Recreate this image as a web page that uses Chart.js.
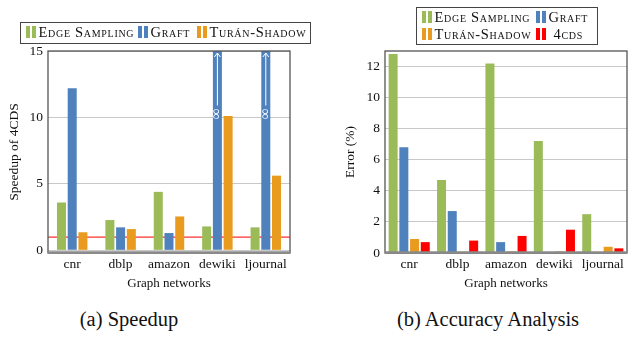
<!DOCTYPE html>
<html>
<head>
<meta charset="utf-8">
<script src="https://cdn.jsdelivr.net/npm/chart.js@4/dist/chart.umd.min.js"></script>
<style>
  body { margin: 0; background: #fff; font-family: 'Liberation Serif', serif; }
  #wrap { position: relative; width: 628px; height: 339px; overflow: hidden; }
  canvas { position: absolute; }
  .legend { position: absolute; border: 1.3px solid #444; box-sizing: border-box; font-size: 14.5px; font-variant: small-caps; letter-spacing: 0.7px; color: #111; }
  .legend span.item { position: absolute; white-space: nowrap; line-height: 15px; }
  .sw { display: inline-block; width: 4px; height: 12px; margin-right: 1.5px; vertical-align: -1px; }
  .sw.last { margin-right: 3px; }
  .cap { position: absolute; font-size: 20.5px; color: #111; white-space: nowrap; transform: translateX(-50%); }
</style>
</head>
<body>
<div id="wrap">
  <canvas id="speedup" width="314" height="300" style="left:0;top:0"></canvas>
  <canvas id="accuracy" width="298" height="300" style="left:330px;top:0"></canvas>
  <div class="legend" id="legA" style="left:20px;top:22px;width:291px;height:22px"></div>
  <div class="legend" id="legB" style="left:416px;top:7px;width:182px;height:38px"></div>
  <div class="cap" style="left:129px;top:308px">(a) Speedup</div>
  <div class="cap" style="left:488px;top:308px">(b) Accuracy Analysis</div>
</div>
<script>
"use strict";
// graph datasets on the x axis
const networks = ["cnr", "dblp", "amazon", "dewiki", "ljournal"];

// (a) speedup of 4CDS over each method (Infinity = baseline did not finish)
const speedupEdge = [3.6, 2.28, 4.4, 1.8, 1.73];
const speedupGraft = [12.2, 1.73, 1.3, Infinity, Infinity];
const speedupTuran = [1.36, 1.6, 2.55, 10.1, 5.62];
const speedupTicks = [0, 5, 10, 15];
const speedupBaseline = 1;

// (b) error in percent
const errorEdge = [12.8, 4.7, 12.2, 7.2, 2.5];
const errorGraft = [6.8, 2.7, 0.7, 0, 0];
const errorTuran = [0.9, 0.08, 0.1, 0.1, 0.4];
const error4cds = [0.7, 0.8, 1.1, 1.5, 0.3];
const errorTicks = [0, 2, 4, 6, 8, 10, 12];

const GREEN = "#9bbb59", BLUE = "#4f81bd", ORANGE = "#e99b1f", RED = "#ff0000";
const FONT = "'Liberation Serif', serif";

// html legends (small caps like the paper)
function legendItem(color, label, left, top, gap) {
  return '<span class="item" style="left:' + left + 'px;top:' + top + 'px">' +
    '<span class="sw" style="background:' + color + '"></span>' +
    '<span class="sw last" style="background:' + color + (gap ? ';margin-right:' + gap + 'px' : '') + '"></span>' + label + '</span>';
}
document.getElementById("legA").innerHTML =
  legendItem(GREEN, "Edge Sampling", 5, 2) +
  legendItem(BLUE, "Graft", 117, 2) +
  legendItem(ORANGE, "Turán-Shadow", 176, 2);
document.getElementById("legB").innerHTML =
  legendItem(GREEN, "Edge Sampling", 5, 2) +
  legendItem(BLUE, "Graft", 119, 2) +
  legendItem(ORANGE, "Turán-Shadow", 5, 19) +
  legendItem(RED, "4cds", 119, 19, 8);

// box around the plot, thicker grey base line
const frame = {
  id: "frame",
  afterDraw(chart) {
    const { ctx, chartArea: a } = chart;
    ctx.save();
    ctx.strokeStyle = "#555";
    ctx.lineWidth = 1.3;
    ctx.strokeRect(a.left, a.top, a.right - a.left, a.bottom - a.top);
    ctx.strokeStyle = "#8a8a8a";
    ctx.lineWidth = 2.5;
    ctx.beginPath();
    ctx.moveTo(a.left, a.bottom - 0.5);
    ctx.lineTo(a.right, a.bottom - 0.5);
    ctx.stroke();
    ctx.restore();
  }
};

// red line at speedup = 1
const baseline = {
  id: "baseline",
  beforeDatasetsDraw(chart) {
    const { ctx, chartArea: a } = chart;
    const y = chart.scales.y.getPixelForValue(speedupBaseline);
    ctx.save();
    ctx.strokeStyle = "#ff3030";
    ctx.lineWidth = 1.2;
    ctx.beginPath();
    ctx.moveTo(a.left, y);
    ctx.lineTo(a.right, y);
    ctx.stroke();
    ctx.restore();
  }
};

// arrow + infinity sign on bars that run off the top
const infinity = {
  id: "infinity",
  afterDatasetsDraw(chart) {
    const { ctx, chartArea: a } = chart;
    const meta = chart.getDatasetMeta(1);
    const ys = chart.scales.y;
    speedupGraft.forEach((v, i) => {
      if (v !== Infinity) return;
      const x = meta.data[i].x;
      const yInf = ys.getPixelForValue(10.25);
      const yStart = ys.getPixelForValue(10.9);
      ctx.save();
      ctx.strokeStyle = "#fff";
      ctx.fillStyle = "#fff";
      ctx.lineWidth = 1;
      ctx.beginPath();
      ctx.moveTo(x, yStart);
      ctx.lineTo(x, a.top + 2);
      ctx.moveTo(x - 3, a.top + 6);
      ctx.lineTo(x, a.top + 2);
      ctx.lineTo(x + 3, a.top + 6);
      ctx.stroke();
      ctx.translate(x, yInf);
      ctx.rotate(Math.PI / 2);
      ctx.font = "15px " + FONT;
      ctx.textAlign = "center";
      ctx.textBaseline = "middle";
      ctx.fillText("\u221e", 0, 1);
      ctx.restore();
    });
  }
};

function axes(yTitle, yMin, yMax, tickList, leftWidth) {
  return {
    x: {
      offset: true,
      grid: { display: false, drawTicks: false, tickLength: 0 },
      border: { display: false },
      ticks: { color: "#111", font: { family: FONT, size: 13.5 }, padding: 3 },
      title: { display: true, text: "Graph networks", color: "#111", font: { family: FONT, size: 13 }, padding: { top: 2, bottom: 0 } },
      afterFit(s) { s.height = 38; }
    },
    y: {
      min: yMin,
      max: yMax,
      grid: { color: "#c8c8c8", lineWidth: 1, drawTicks: false, tickLength: 0 },
      border: { display: false },
      ticks: { color: "#111", font: { family: FONT, size: 13.5 }, padding: 5 },
      afterBuildTicks(s) { s.ticks = tickList.map(v => ({ value: v })); },
      title: { display: true, text: yTitle, color: "#111", font: { family: FONT, size: 13.5 }, padding: { top: 0, bottom: 2 } },
      afterFit(s) { s.width = leftWidth; }
    }
  };
}

function draw() {
  new Chart(document.getElementById("speedup"), {
    type: "bar",
    data: {
      labels: networks,
      datasets: [
        { label: "Edge Sampling", data: speedupEdge, backgroundColor: GREEN },
        { label: "Graft", data: speedupGraft.map(v => v === Infinity ? 15 : v), backgroundColor: BLUE },
        { label: "Turán-Shadow", data: speedupTuran, backgroundColor: ORANGE }
      ]
    },
    options: {
      responsive: false,
      animation: false,
      events: [],
      layout: { padding: { top: 51, right: 24, left: 6, bottom: 9 } },
      datasets: { bar: { categoryPercentage: 0.665, barPercentage: 0.84, borderWidth: 0 } },
      plugins: { legend: { display: false }, tooltip: { enabled: false } },
      scales: axes("Speedup of 4CDS", -0.2, 15, speedupTicks, 42)
    },
    plugins: [baseline, infinity, frame]
  });

  new Chart(document.getElementById("accuracy"), {
    type: "bar",
    data: {
      labels: networks,
      datasets: [
        { label: "Edge Sampling", data: errorEdge, backgroundColor: GREEN },
        { label: "Graft", data: errorGraft, backgroundColor: BLUE },
        { label: "Turán-Shadow", data: errorTuran, backgroundColor: ORANGE },
        { label: "4cds", data: error4cds, backgroundColor: RED }
      ]
    },
    options: {
      responsive: false,
      animation: false,
      events: [],
      layout: { padding: { top: 51, right: 1, left: 12, bottom: 9 } },
      datasets: { bar: { categoryPercentage: 0.885, barPercentage: 0.84, borderWidth: 0 } },
      plugins: { legend: { display: false }, tooltip: { enabled: false } },
      scales: axes("Error (%)", 0, 13, errorTicks, 43)
    },
    plugins: [frame]
  });
}

document.fonts.load("14px 'Liberation Serif'").then(draw, draw);
</script>
</body>
</html>
